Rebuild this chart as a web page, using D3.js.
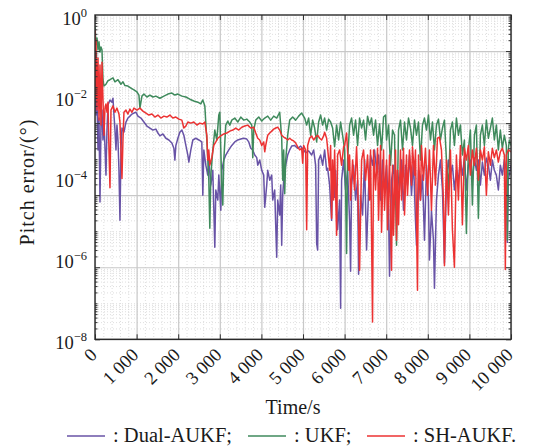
<!DOCTYPE html>
<html lang="en">
<head>
<meta charset="UTF-8">
<title>Pitch error</title>
<script src="https://cdn.jsdelivr.net/npm/d3@7/dist/d3.min.js"></script>
<style>
    body{ margin:0; background:#fff; }
    svg text{ font-family:"Liberation Serif","Times New Roman",serif; fill:#1a1a1a; }
    .grid-major line{ stroke:#c8c8c8; stroke-width:1.2; }
    .grid-minor line{ stroke:#d6d6d6; stroke-width:0.8; stroke-dasharray:1,2; }
    .ax path{ display:none; }
    .ax line{ stroke:#333; stroke-width:1; }
</style>
</head>
<body>
<svg id="chart" width="542" height="447"></svg>
<script>
// time (s), pitch error (deg)
var dualAukf = [[0,0.3],[24,0.0167],[48,0.044],[72,0.0018],[96,0.0138],[120,6.5e-5],[144,0.0088],[168,0.023],[192,0.0034],[216,0.0121],[264,3.6e-4],[288,0.0064],[312,0.032],[360,0.044],[408,0.038],[432,0.049],[456,0.0167],[480,0.0064],[504,0.0018],[528,0.0088],[552,0.0034],[576,4.9e-4],[600,2.0e-5],[624,0.0018],[648,0.0073],[696,0.0056],[744,0.0107],[792,0.0138],[840,0.0156],[888,0.0178],[936,0.019],[984,0.02],[1032,0.0156],[1104,0.0138],[1176,0.0107],[1248,0.0083],[1320,0.0073],[1392,0.0064],[1464,0.0068],[1512,0.0053],[1560,0.0044],[1632,0.005],[1704,0.0038],[1776,0.0034],[1848,0.0028],[1896,0.002],[1920,9.4e-4],[1944,0.0024],[1992,0.0038],[2040,0.0056],[2088,0.0064],[2136,0.0046],[2184,0.0024],[2232,0.0013],[2256,8.3e-4],[2304,0.0018],[2352,0.0034],[2424,0.0038],[2496,0.0034],[2568,0.003],[2592,1.0e-4],[2616,0.0018],[2664,6.8e-4],[2712,3.6e-4],[2736,9.4e-4],[2784,1.9e-4],[2832,4.9e-4],[2880,3.6e-6],[2904,1.4e-4],[2952,7.3e-5],[2976,3.6e-4],[3024,3.8e-5],[3048,4.9e-4],[3096,9.4e-4],[3144,0.0013],[3216,0.0018],[3288,0.0024],[3360,0.003],[3432,0.0034],[3504,0.0036],[3576,0.0038],[3648,0.0036],[3696,0.003],[3744,0.002],[3792,0.0018],[3840,0.0013],[3888,0.0011],[3912,6.8e-4],[3960,9.4e-4],[4008,4.9e-4],[4056,3.6e-4],[4080,4.6e-5],[4128,1.9e-4],[4152,4.9e-4],[4200,2.6e-4],[4248,3.6e-4],[4272,7.3e-5],[4320,1.4e-4],[4344,1.5e-5],[4368,1.9e-6],[4392,7.3e-5],[4440,2.8e-5],[4464,1.9e-4],[4488,4.1e-6],[4512,1.0e-4],[4536,2.6e-4],[4584,6.8e-4],[4632,0.0013],[4680,0.0018],[4728,0.0023],[4800,0.0024],[4872,0.002],[4944,0.0023],[5016,0.0018],[5064,0.0015],[5136,0.0017],[5208,0.0013],[5256,0.0018],[5304,6.8e-4],[5328,4.6e-6],[5352,3.0e-6],[5376,9.4e-4],[5424,0.0013],[5472,6.8e-4],[5520,0.0018],[5568,4.9e-4],[5592,5.6e-4],[5640,1.9e-4],[5688,2.0e-5],[5712,3.6e-4],[5760,8.7e-5],[5784,4.9e-4],[5832,1.1e-5],[5880,7.3e-5],[5904,7.3e-8],[5928,2.6e-4],[5976,9.4e-4],[6024,1.4e-4],[6072,4.9e-4],[6120,2.0e-5],[6144,7.7e-7],[6168,1.9e-4],[6216,6.8e-4],[6264,7.3e-5],[6312,2.6e-4],[6336,6.4e-7],[6384,1.0e-4],[6432,2.8e-5],[6480,9.4e-4],[6528,3.0e-6],[6576,1.4e-4],[6624,0.0013],[6672,6.8e-4],[6720,0.0018],[6768,4.9e-4],[6816,0.0013],[6864,7.3e-5],[6912,9.4e-4],[6960,1.4e-4],[7008,6.8e-4],[7056,3.8e-5],[7080,5.6e-7],[7128,2.6e-4],[7176,6.8e-4],[7224,7.3e-5],[7272,4.9e-4],[7320,1.4e-4],[7368,9.4e-4],[7416,3.8e-5],[7464,6.8e-4],[7512,1.9e-4],[7560,0.0013],[7608,1.0e-4],[7656,9.4e-4],[7704,2.0e-5],[7728,4.1e-6],[7776,4.9e-4],[7824,7.3e-5],[7872,3.6e-4],[7920,5.6e-6],[7968,6.8e-4],[8016,7.3e-5],[8040,1.6e-6],[8088,3.8e-5],[8136,5.6e-6],[8160,2.6e-7],[8208,7.3e-5],[8256,3.6e-4],[8304,9.4e-4],[8352,1.4e-4],[8400,1.3e-6],[8448,2.6e-4],[8496,9.4e-4],[8544,3.6e-4],[8592,6.8e-4],[8640,1.4e-4],[8688,4.9e-4],[8736,2.6e-4],[8784,9.4e-4],[8832,3.6e-4],[8880,1.07e-3],[8928,1.4e-4],[8976,6.8e-4],[9024,9.4e-4],[9072,2.6e-4],[9120,1.07e-3],[9168,4.9e-4],[9216,9.4e-4],[9264,1.9e-4],[9312,8.3e-4],[9360,3.6e-4],[9408,1.07e-3],[9456,6.8e-4],[9504,2.6e-4],[9552,9.4e-4],[9600,4.9e-4],[9648,3.6e-4],[9696,1.4e-4],[9744,6.8e-4],[9792,3.6e-4],[9840,9.4e-4],[9888,4.9e-4],[9912,4.9e-6],[9936,2.6e-4],[10000,6.8e-4]];

var ukf = [[0,4.6],[24,1.5],[48,2.3],[72,1.07],[96,1.8],[120,0.94],[144,1.3],[168,1.07],[192,0.16],[216,0.107],[264,0.12],[312,0.15],[360,0.16],[432,0.18],[480,0.14],[552,0.16],[624,0.12],[672,0.14],[720,0.11],[792,0.107],[864,0.094],[936,0.083],[1008,0.073],[1056,0.06],[1080,0.026],[1128,0.056],[1176,0.064],[1248,0.053],[1320,0.06],[1392,0.053],[1464,0.056],[1560,0.049],[1656,0.056],[1752,0.064],[1848,0.068],[1920,0.06],[1992,0.064],[2088,0.056],[2184,0.053],[2280,0.046],[2376,0.041],[2472,0.038],[2544,0.034],[2592,0.044],[2640,0.03],[2688,0.0034],[2736,2.6e-4],[2760,1.2e-5],[2784,3.6e-4],[2832,0.0018],[2880,0.0064],[2928,0.0034],[2976,0.0167],[3000,0.02],[3024,0.0018],[3048,1.9e-4],[3072,5.3e-5],[3096,9.4e-4],[3144,0.0088],[3192,0.0114],[3240,0.0088],[3288,0.0121],[3360,0.0138],[3432,0.0107],[3504,0.0147],[3576,0.0121],[3648,0.0129],[3720,0.0107],[3768,0.0088],[3792,0.0011],[3816,0.0064],[3864,0.0121],[3936,0.0147],[4008,0.0114],[4080,0.0138],[4152,0.0156],[4224,0.0121],[4296,0.0156],[4368,0.0138],[4440,0.02],[4488,0.0038],[4512,2.6e-4],[4536,0.0018],[4560,1.1e-4],[4584,9.4e-4],[4632,0.0046],[4680,0.0121],[4752,0.0147],[4824,0.0121],[4896,0.0156],[4968,0.019],[5040,0.0138],[5088,0.0088],[5136,0.0138],[5184,0.0046],[5232,0.0121],[5280,0.0073],[5328,0.003],[5376,0.0107],[5424,0.0167],[5472,0.0088],[5520,0.0138],[5568,0.0064],[5616,0.0129],[5664,0.0107],[5712,0.0073],[5760,0.0022],[5808,0.0088],[5856,0.0034],[5904,0.0107],[5952,0.0046],[6000,0.0018],[6024,1.4e-4],[6048,2.4e-6],[6072,9.4e-4],[6120,0.0088],[6168,0.0138],[6216,0.0046],[6264,0.0121],[6312,0.0024],[6360,0.0138],[6408,0.0073],[6456,0.0121],[6504,0.0034],[6552,0.0156],[6600,0.0088],[6648,0.0138],[6696,0.0046],[6744,0.0121],[6792,0.0024],[6840,0.0094],[6888,0.0018],[6936,0.0147],[6984,0.0167],[7008,0.0034],[7056,0.0088],[7104,6.8e-4],[7152,0.0064],[7200,0.0046],[7248,4.1e-6],[7296,0.0064],[7344,0.0121],[7392,0.0018],[7440,0.0107],[7488,0.0034],[7536,0.0138],[7584,0.0073],[7632,0.0024],[7680,0.0121],[7728,0.0046],[7776,0.0107],[7824,9.4e-4],[7872,0.0088],[7920,0.0138],[7968,0.0064],[8016,0.0167],[8064,0.0034],[8112,0.0107],[8160,0.0018],[8208,0.0088],[8256,0.0129],[8304,0.0034],[8352,0.0073],[8400,0.0121],[8448,9.4e-4],[8496,1.4e-4],[8544,0.0064],[8592,0.0107],[8640,0.0024],[8688,0.0138],[8736,0.0046],[8784,0.0088],[8832,0.0013],[8880,0.0034],[8928,8.7e-6],[8976,0.0018],[9024,0.0064],[9072,5.3e-5],[9120,0.0046],[9168,0.0088],[9216,2.3e-5],[9264,0.0046],[9312,0.0088],[9360,0.0024],[9408,0.0121],[9456,0.0038],[9504,0.0073],[9552,0.0138],[9600,0.0034],[9648,0.0088],[9696,0.0018],[9744,0.0064],[9792,0.002],[9840,0.0046],[9888,0.0024],[9912,5.6e-6],[9936,0.0018],[9960,0.0034],[10000,0.0024]];

var shAukf = [[0,3.8],[12,0.049],[24,2.0],[48,0.023],[72,0.64],[96,0.0121],[120,0.41],[144,0.0088],[168,0.49],[192,0.044],[216,0.0046],[240,0.026],[264,0.034],[288,0.02],[312,0.038],[336,0.0018],[360,1.6e-4],[384,0.023],[432,0.03],[480,0.02],[528,0.026],[576,0.0178],[600,0.0107],[624,0.0018],[648,2.9e-4],[672,0.0034],[696,0.02],[744,0.023],[792,0.0178],[840,0.0245],[888,0.02],[936,0.026],[1008,0.023],[1080,0.026],[1152,0.0215],[1224,0.019],[1296,0.0167],[1368,0.0178],[1440,0.0147],[1512,0.0167],[1584,0.0138],[1656,0.0156],[1728,0.0147],[1800,0.0167],[1872,0.0138],[1944,0.0147],[2016,0.0129],[2088,0.0121],[2136,0.0073],[2184,0.0083],[2232,0.0107],[2304,0.01],[2376,0.0107],[2448,0.0088],[2520,0.01],[2592,0.0094],[2640,0.0107],[2688,0.0046],[2712,9.4e-4],[2736,0.0018],[2760,6.8e-4],[2808,0.0011],[2856,0.0024],[2904,0.003],[2952,0.0038],[3024,0.0044],[3096,0.005],[3168,0.0053],[3240,0.006],[3312,0.0064],[3384,0.0073],[3456,0.0064],[3528,0.0077],[3600,0.0083],[3672,0.0088],[3744,0.0073],[3816,0.0077],[3864,0.0053],[3912,0.0038],[3960,0.0034],[4008,0.0024],[4056,0.003],[4080,0.0016],[4104,0.0024],[4152,0.0046],[4200,0.0053],[4248,0.006],[4296,0.0068],[4344,0.0073],[4392,0.0077],[4440,0.0064],[4488,0.0046],[4536,0.0041],[4584,0.0038],[4632,0.0034],[4680,0.0038],[4728,0.0034],[4776,0.0032],[4824,0.0028],[4872,0.0022],[4920,0.0018],[4968,0.002],[4992,7.7e-4],[5016,0.0024],[5064,0.0018],[5088,1.1e-5],[5112,0.0024],[5160,0.0038],[5208,0.0044],[5256,0.0034],[5304,0.0041],[5352,0.0046],[5400,0.0038],[5448,0.0034],[5496,0.0044],[5520,0.0056],[5568,0.0038],[5592,0.002],[5640,4.9e-4],[5664,0.0024],[5688,2.3e-5],[5712,9.4e-4],[5736,7.3e-5],[5760,0.0018],[5808,7.7e-6],[5832,0.0013],[5880,0.0018],[5928,6.8e-4],[5976,0.0022],[6000,0.0024],[6048,0.0053],[6096,4.9e-4],[6120,0.0013],[6144,7.3e-5],[6192,9.4e-4],[6240,1.4e-4],[6288,0.0022],[6312,3.6e-4],[6360,8.3e-7],[6408,9.4e-4],[6456,0.0018],[6504,2.6e-4],[6552,0.0013],[6600,7.3e-5],[6624,0.0018],[6672,3.0e-8],[6696,0.0018],[6744,1.4e-4],[6792,0.002],[6816,2.0e-5],[6864,0.0024],[6888,9.4e-6],[6936,0.0018],[6960,3.8e-5],[7008,9.4e-4],[7032,1.1e-5],[7080,0.0013],[7104,1.5e-5],[7128,8.3e-7],[7152,6.8e-4],[7176,7.7e-6],[7224,0.0018],[7248,5.6e-6],[7272,4.9e-4],[7296,1.5e-5],[7344,0.0018],[7368,7.3e-5],[7416,0.002],[7440,2.8e-5],[7488,0.0013],[7512,1.0e-4],[7560,0.0018],[7608,1.9e-4],[7632,0.0022],[7680,3.6e-4],[7704,0.0018],[7752,2.3e-7],[7776,0.0013],[7824,7.3e-5],[7848,0.0024],[7896,2.6e-4],[7944,0.002],[7992,1.0e-4],[8040,0.0018],[8088,3.8e-5],[8136,0.0024],[8184,1.9e-4],[8232,0.0038],[8280,0.0041],[8328,0.0018],[8376,7.3e-5],[8400,1.1e-6],[8448,9.4e-4],[8496,2.8e-5],[8544,0.0018],[8592,1.1e-5],[8640,1.0e-6],[8688,0.0013],[8736,7.3e-5],[8784,0.0024],[8832,1.5e-5],[8880,0.002],[8928,9.4e-4],[8976,0.0024],[9024,3.6e-4],[9072,0.0018],[9120,6.8e-4],[9168,0.002],[9216,2.6e-4],[9264,0.0018],[9312,9.4e-4],[9360,0.0022],[9408,1.0e-4],[9456,0.0016],[9504,6.8e-4],[9552,0.002],[9600,1.1e-3],[9648,0.0018],[9696,8.3e-4],[9744,0.0016],[9792,0.002],[9840,0.0013],[9864,8.7e-7],[9888,0.0013],[9936,0.0018],[10000,0.0016]];

var xTicks = [0,1000,2000,3000,4000,5000,6000,7000,8000,9000,10000];
var yLabelTicks = [1,1e-2,1e-4,1e-6,1e-8];
var yExpText = ["0","\u22122","\u22124","\u22126","\u22128"];
var names = ["Dual-AUKF;","UKF;","SH-AUKF."];
var colors = ["#6853a6","#3f8a5c","#ec3232"];

var L = 95, R = 511, T = 15, B = 339.3;
var svg = d3.select("#chart");

var x = d3.scaleLinear().domain([0,10000]).range([L,R]);
// data/grid scale of the plot, and the re-typeset label positions
var y = d3.scaleLog().domain([1e-8,10]).range([B,T]);
var yLab = d3.scaleLog().domain([1e-8,1]).range([B,T]);

var isMajorY = function(v){
    var e = Math.log10(v);
    return Math.abs(e-Math.round(e))<1e-9 && Math.round(e)%2===0;
};
var yAll = y.ticks();
var yMajor = yAll.filter(isMajorY);
var yMinor = yAll.filter(function(v){ return !isMajorY(v) && v<10; });
var xMinor = x.ticks(50).filter(function(d){ return d%1000!==0; });

// grid
svg.append("g").attr("class","grid-minor")
    .attr("transform","translate("+L+",0)")
    .call(d3.axisRight(y).tickValues(yMinor).tickSize(R-L).tickFormat(""))
    .select(".domain").remove();
svg.append("g").attr("class","grid-minor")
    .attr("transform","translate(0,"+T+")")
    .call(d3.axisBottom(x).tickValues(xMinor).tickSize(B-T).tickFormat(""))
    .select(".domain").remove();
svg.append("g").attr("class","grid-major")
    .attr("transform","translate("+L+",0)")
    .call(d3.axisRight(y).tickValues(yMajor).tickSize(R-L).tickFormat(""))
    .select(".domain").remove();
svg.append("g").attr("class","grid-major")
    .attr("transform","translate(0,"+T+")")
    .call(d3.axisBottom(x).tickValues(xTicks).tickSize(B-T).tickFormat(""))
    .select(".domain").remove();

// lines
svg.append("clipPath").attr("id","clip").append("rect")
    .attr("x",L).attr("y",T).attr("width",R-L).attr("height",B-T);
var line = d3.line().x(function(d){ return x(d[0]); }).y(function(d){ return y(d[1]); });
svg.append("g").attr("clip-path","url(#clip)")
    .selectAll("path").data([dualAukf,ukf,shAukf]).enter()
    .append("path")
    .attr("d",line)
    .attr("fill","none")
    .attr("stroke",function(d,i){ return colors[i]; })
    .attr("stroke-width",1.5)
    .attr("stroke-linejoin","round");

// ticks (inward) on all four sides
svg.append("g").attr("class","ax").attr("transform","translate("+L+",0)")
    .call(d3.axisLeft(y).tickValues(yMajor).tickSize(-5).tickFormat(""));
svg.append("g").attr("class","ax").attr("transform","translate("+L+",0)")
    .call(d3.axisLeft(y).tickValues(yMinor).tickSize(-2.5).tickFormat(""));
svg.append("g").attr("class","ax").attr("transform","translate("+R+",0)")
    .call(d3.axisRight(y).tickValues(yMajor).tickSize(-5).tickFormat(""));
svg.append("g").attr("class","ax").attr("transform","translate("+R+",0)")
    .call(d3.axisRight(y).tickValues(yMinor).tickSize(-2.5).tickFormat(""));
svg.append("g").attr("class","ax").attr("transform","translate(0,"+B+")")
    .call(d3.axisBottom(x).tickValues(xTicks).tickSize(-5).tickFormat(""));
svg.append("g").attr("class","ax").attr("transform","translate(0,"+T+")")
    .call(d3.axisTop(x).tickValues(xTicks).tickSize(-5).tickFormat(""));

svg.append("rect").attr("x",L).attr("y",T).attr("width",R-L).attr("height",B-T)
    .attr("fill","none").attr("stroke","#2a2a2a").attr("stroke-width",1.4);

// y tick labels
var yl = svg.append("g").selectAll("text").data(yLabelTicks).enter()
    .append("text")
    .attr("x",87)
    .attr("y",function(d){ return yLab(d)+10; })
    .attr("text-anchor","end")
    .style("font-size","18.5px");
yl.append("tspan").text("10");
yl.append("tspan").attr("dy",-8).style("font-size","12.5px")
    .text(function(d,i){ return yExpText[i]; });

// x tick labels, rotated
svg.append("g").selectAll("text").data(xTicks).enter()
    .append("text")
    .attr("transform",function(d){ return "translate("+(x(d)+3)+",356) rotate(-45)"; })
    .attr("text-anchor","end")
    .style("font-size","18.5px")
    .text(function(d){ return d3.format(",")(d).replace(/,/g," "); });

svg.append("text").attr("x",293).attr("y",414).attr("text-anchor","middle")
    .style("font-size","20px").text("Time/s");
svg.append("text").attr("transform","translate(34,182) rotate(-90)")
    .attr("text-anchor","middle").style("font-size","20px")
    .style("letter-spacing","1px").text("Pitch error/(\u00b0)");

// legend
var legX = [67,248,367];
var lg = svg.append("g").selectAll("g").data(names).enter().append("g")
    .attr("transform",function(d,i){ return "translate("+legX[i]+",436)"; });
lg.append("line").attr("x1",0).attr("x2",38).attr("y1",0).attr("y2",0)
    .attr("stroke",function(d,i){ return colors[i]; }).attr("stroke-width",1.5);
lg.append("text").attr("x",46).attr("y",6).style("font-size","20.5px")
    .text(function(d){ return ": "+d; });
</script>
</body>
</html>
